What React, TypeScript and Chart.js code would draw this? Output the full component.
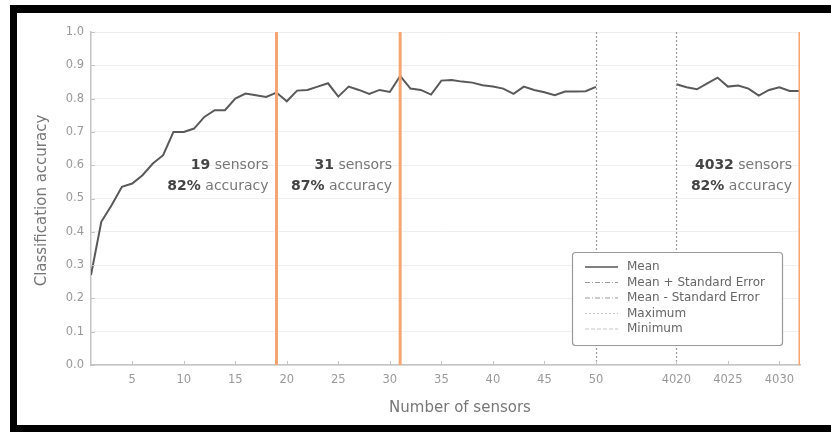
import React, { useEffect, useRef } from 'react';
import { Chart, registerables } from 'chart.js';

Chart.register(...registerables);

// ---- data ----
const sensorsLeft = [
  1, 2, 3, 4, 5, 6, 7, 8, 9, 10, 11, 12, 13, 14, 15, 16, 17, 18, 19, 20, 21, 22, 23, 24, 25,
  26, 27, 28, 29, 30, 31, 32, 33, 34, 35, 36, 37, 38, 39, 40, 41, 42, 43, 44, 45, 46, 47, 48, 49, 50,
];
const meanLeft = [
  0.27, 0.43, 0.48, 0.535, 0.545, 0.57, 0.605, 0.63, 0.7, 0.7,
  0.71, 0.745, 0.765, 0.765, 0.8, 0.815, 0.81, 0.805, 0.818, 0.792,
  0.824, 0.826, 0.836, 0.846, 0.806, 0.836, 0.826, 0.814, 0.826, 0.82,
  0.868, 0.83, 0.826, 0.812, 0.854, 0.856, 0.851, 0.848, 0.84, 0.836,
  0.83, 0.814, 0.836, 0.826, 0.819, 0.81, 0.821, 0.821, 0.822, 0.835,
];
const sensorsRight = [4020, 4021, 4022, 4023, 4024, 4025, 4026, 4027, 4028, 4029, 4030, 4031, 4032];
const meanRight = [0.843, 0.834, 0.828, 0.846, 0.863, 0.836, 0.839, 0.83, 0.809, 0.826, 0.834, 0.823, 0.823];

const xTickValues = [5, 10, 15, 20, 25, 30, 35, 40, 45, 50, 4020, 4025, 4030];
const breakEdges = [50, 4020];
const markerSensors = [19, 31, 4032];
const markerAccuracy = ['82%', '87%', '82%'];
const legendLabels = ['Mean', 'Mean + Standard Error', 'Mean - Standard Error', 'Maximum', 'Minimum'];

const xTitle = 'Number of sensors';
const yTitle = 'Classification accuracy';

// broken axis mapping
const BREAK_FROM = 50;
const BREAK_TO = 4020;
const GAP = 7.8;
const brk = (v: number) => (v > BREAK_FROM ? v - BREAK_TO + BREAK_FROM + GAP : v);

const FONT = "'DejaVu Sans', sans-serif";
const ORANGE = '#f5a472';

const legendStyles = [
  { color: '#555555', dash: [] as number[], width: 1.5 },
  { color: '#9a9a9a', dash: [5, 2, 1, 2], width: 1 },
  { color: '#9a9a9a', dash: [5, 2, 1, 2], width: 1 },
  { color: '#c4c4c4', dash: [2, 2], width: 1 },
  { color: '#c4c4c4', dash: [4, 2], width: 1 },
];

const overlayPlugin = {
  id: 'overlay',
  afterDraw(chart: any) {
    const { ctx, chartArea: a, scales } = chart;
    const x = scales.x;
    const y = scales.y;
    const line = (x1: number, y1: number, x2: number, y2: number) => {
      ctx.beginPath();
      ctx.moveTo(x1, y1);
      ctx.lineTo(x2, y2);
      ctx.stroke();
    };
    ctx.save();

    // dotted break lines
    ctx.strokeStyle = '#9a9a9a';
    ctx.lineWidth = 1.2;
    ctx.setLineDash([2, 2]);
    breakEdges.forEach((v) => {
      const px = Math.round(x.getPixelForValue(brk(v))) + 0.5;
      line(px, a.top, px, a.bottom);
    });
    ctx.setLineDash([]);

    // inward tick marks
    ctx.strokeStyle = '#c4c4c4';
    ctx.lineWidth = 1;
    xTickValues.forEach((v) => {
      const px = Math.round(x.getPixelForValue(brk(v))) + 0.5;
      line(px, a.bottom, px, a.bottom - 4);
    });
    y.ticks.forEach((t: any) => {
      const py = Math.round(y.getPixelForValue(t.value)) + 0.5;
      line(a.left, py, a.left + 4, py);
    });

    // orange marker lines
    ctx.save();
    ctx.beginPath();
    ctx.rect(a.left, a.top - 1, a.right - a.left, a.bottom - a.top + 1);
    ctx.clip();
    ctx.strokeStyle = ORANGE;
    ctx.lineWidth = 3;
    markerSensors.forEach((v) => {
      const px = x.getPixelForValue(brk(v));
      line(px, a.top, px, a.bottom);
    });
    ctx.restore();

    // annotations
    ctx.textBaseline = 'middle';
    const y1 = y.getPixelForValue(0.6);
    const y2 = y1 + 21;
    const drawPair = (bold: string, rest: string, right: number, py: number) => {
      ctx.font = `normal 14px ${FONT}`;
      const wr = ctx.measureText(rest).width;
      ctx.font = `bold 14px ${FONT}`;
      const wb = ctx.measureText(bold).width;
      ctx.textAlign = 'left';
      ctx.fillStyle = '#444444';
      ctx.fillText(bold, right - wr - wb, py);
      ctx.font = `normal 14px ${FONT}`;
      ctx.fillStyle = '#777777';
      ctx.fillText(rest, right - wr, py);
    };
    markerSensors.forEach((v, i) => {
      const right = x.getPixelForValue(brk(v)) - 8;
      drawPair(String(v), ' sensors', right, y1);
      drawPair(markerAccuracy[i], ' accuracy', right, y2);
    });

    // axis titles
    ctx.fillStyle = '#777777';
    ctx.font = `normal 15px ${FONT}`;
    ctx.textAlign = 'center';
    ctx.fillText(xTitle, 460, 408);
    ctx.save();
    ctx.translate(42, (a.top + a.bottom) / 2 + 2);
    ctx.rotate(-Math.PI / 2);
    ctx.fillText(yTitle, 0, 0);
    ctx.restore();

    // legend
    const lx = 572;
    const ly = 252;
    const lw = 210;
    const lh = 93;
    ctx.fillStyle = '#ffffff';
    ctx.strokeStyle = '#9a9a9a';
    ctx.lineWidth = 1.2;
    ctx.beginPath();
    ctx.roundRect(lx + 0.5, ly + 0.5, lw, lh, 3);
    ctx.fill();
    ctx.stroke();
    ctx.font = `normal 12px ${FONT}`;
    ctx.textAlign = 'left';
    legendLabels.forEach((lab, i) => {
      const ry = ly + 15 + i * 15.5;
      const st = legendStyles[i];
      ctx.strokeStyle = st.color;
      ctx.lineWidth = st.width;
      ctx.setLineDash(st.dash);
      line(lx + 13, ry, lx + 46, ry);
      ctx.setLineDash([]);
      ctx.fillStyle = '#666666';
      ctx.fillText(lab, lx + 55, ry);
    });

    ctx.restore();
  },
};

export default function App() {
  const ref = useRef<HTMLCanvasElement | null>(null);

  useEffect(() => {
    if (!ref.current) return;
    const left = sensorsLeft.map((s, i) => ({ x: brk(s), y: meanLeft[i] }));
    const right = sensorsRight.map((s, i) => ({ x: brk(s), y: meanRight[i] }));
    const chart = new Chart(ref.current, {
      type: 'line',
      data: {
        datasets: [
          { label: 'Mean', data: left, borderColor: '#595959', borderWidth: 2, pointRadius: 0, tension: 0 },
          { label: 'Mean', data: right, borderColor: '#595959', borderWidth: 2, pointRadius: 0, tension: 0 },
        ],
      },
      options: {
        animation: false,
        responsive: false,
        maintainAspectRatio: false,
        layout: { padding: { left: 0, right: 31, top: 32, bottom: 0 } },
        plugins: { legend: { display: false }, tooltip: { enabled: false } },
        scales: {
          x: {
            type: 'linear',
            min: 1,
            max: brk(4032),
            grid: { display: false, drawTicks: false },
            border: { color: '#c4c4c4', width: 1.5 },
            afterBuildTicks: (s: any) => {
              s.ticks = xTickValues.map((v) => ({ value: brk(v) }));
            },
            afterFit: (s: any) => {
              s.height = 67;
            },
            ticks: {
              autoSkip: false,
              maxRotation: 0,
              padding: 8,
              color: '#999999',
              font: { family: FONT, size: 11.5 },
              callback: (val: any) => {
                const t = xTickValues.find((v) => Math.abs(brk(v) - val) < 1e-6);
                return t === undefined ? '' : String(t);
              },
            },
          },
          y: {
            min: 0,
            max: 1,
            grid: { color: '#efefef', drawTicks: false },
            border: { color: '#c4c4c4', width: 1.5 },
            afterFit: (s: any) => {
              s.width = 91;
            },
            ticks: {
              stepSize: 0.1,
              padding: 7,
              color: '#999999',
              font: { family: FONT, size: 11.5 },
              callback: (v: any) => Number(v).toFixed(1),
            },
          },
        },
      },
      plugins: [overlayPlugin],
    });
    return () => chart.destroy();
  }, []);

  return (
    <div style={{ position: 'absolute', left: 0, top: 0, width: 831, height: 432, background: '#ffffff', overflow: 'hidden' }}>
      <canvas ref={ref} width={831} height={432} style={{ display: 'block', width: 831, height: 432 }} />
      <div style={{ position: 'absolute', left: 10, top: 5, width: 821, height: 8, background: '#000' }} />
      <div style={{ position: 'absolute', left: 10, top: 5, width: 7, height: 427, background: '#000' }} />
      <div style={{ position: 'absolute', left: 10, top: 425, width: 821, height: 7, background: '#000' }} />
    </div>
  );
}
